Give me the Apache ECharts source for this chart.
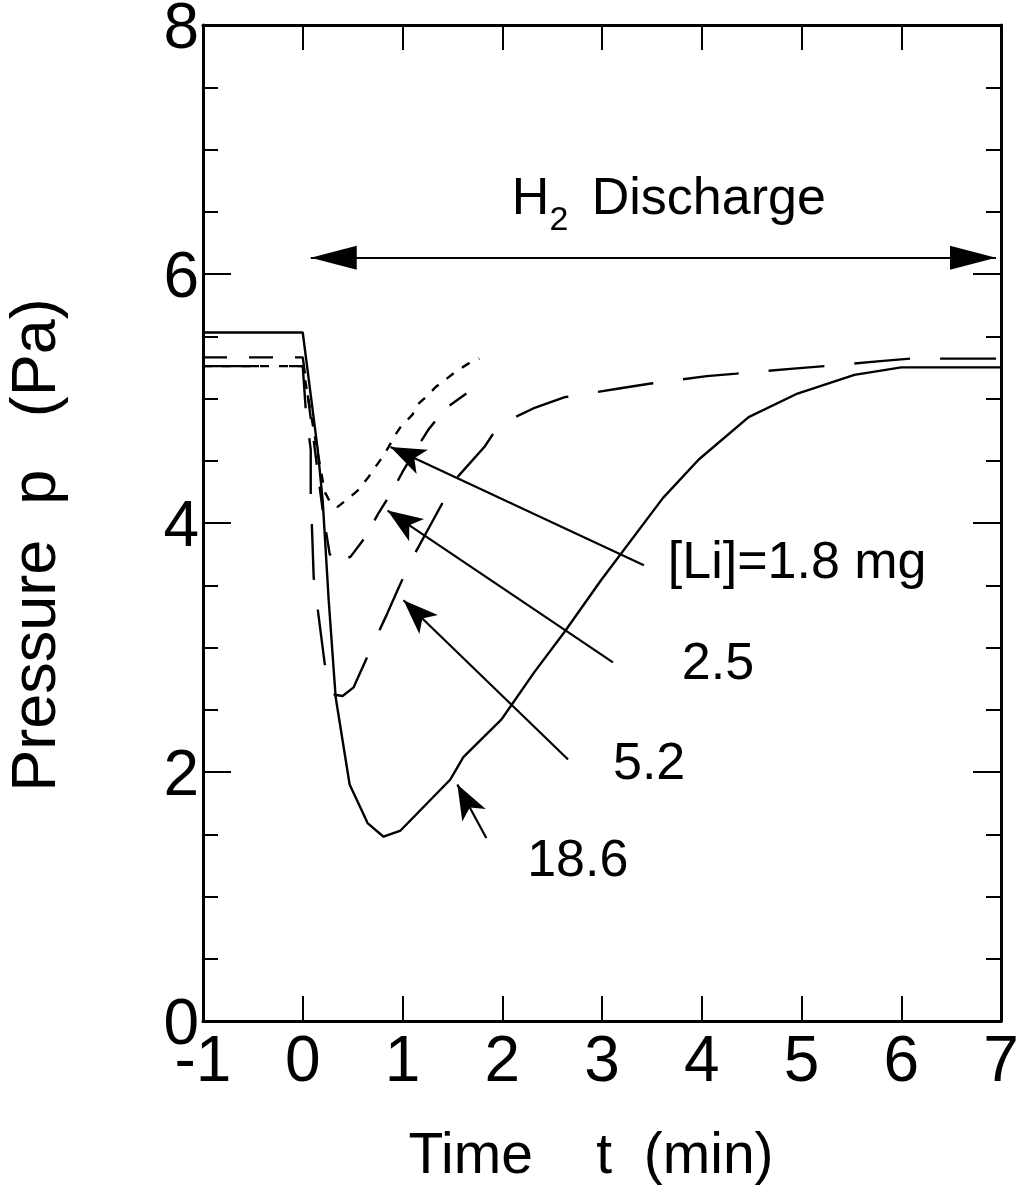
<!DOCTYPE html>
<html><head><meta charset="utf-8">
<script src="https://cdn.jsdelivr.net/npm/echarts@6/dist/echarts.min.js"></script>
<style>html,body{margin:0;padding:0;background:#fff}#c{width:1023px;height:1195px}</style>
</head><body><div id="c"></div>
<script>
// ---- data (time t in min, pressure p in Pa) ----
const xTickValues = [-1, 0, 1, 2, 3, 4, 5, 6, 7];
const yTickValues = [0, 2, 4, 6, 8];
const li18_6 = [[-1,5.53],[0,5.53],[0.15,4.59],[0.20,4.18],[0.26,3.38],[0.33,2.60],[0.47,1.90],[0.65,1.59],[0.81,1.48],[0.98,1.53],[1.48,1.94],[1.61,2.12],[1.99,2.42],[2.32,2.80],[2.62,3.12],[2.99,3.54],[3.61,4.20],[3.97,4.51],[4.47,4.85],[4.96,5.04],[5.53,5.19],[6.00,5.25],[7.00,5.25]];
const li5_2 = [[-1,5.26],[0,5.26],[0.03,4.91],[0.08,4.59],[0.08,4.24],[0.11,3.56],[0.22,2.87],[0.32,2.62],[0.40,2.61],[0.51,2.68],[0.70,3.02],[0.84,3.26],[0.95,3.46],[1.08,3.69],[1.25,3.94],[1.53,4.35],[1.82,4.61],[1.97,4.79],[2.31,4.92],[2.62,5.01],[3.17,5.08],[3.49,5.12],[4.05,5.18],[4.35,5.20],[4.92,5.24],[5.23,5.26],[5.79,5.30],[6.09,5.32],[7.00,5.32]];
const li2_5 = [[-1,5.33],[0,5.33],[0.12,4.60],[0.20,4.10],[0.27,3.75],[0.35,3.68],[0.48,3.73],[0.63,3.89],[0.76,4.08],[0.90,4.26],[1.00,4.41],[1.15,4.61],[1.26,4.75],[1.43,4.92],[1.64,5.04]];
const li1_8 = [[-1,5.26],[0,5.26],[0.12,4.70],[0.22,4.25],[0.28,4.16],[0.35,4.13],[0.46,4.20],[0.55,4.26],[0.66,4.37],[0.71,4.43],[0.80,4.53],[0.86,4.61],[0.93,4.71],[0.98,4.77],[1.10,4.87],[1.15,4.95],[1.26,5.03],[1.33,5.09],[1.46,5.17],[1.54,5.22],[1.66,5.28],[1.77,5.32]];
// annotation arrows: [tailT, tailP, headT, headP]
const arrowLi18 = [3.42, 3.66, 0.88, 4.61];
const arrowLi25 = [3.11, 2.88, 0.85, 4.10];
const arrowLi52 = [2.66, 2.10, 1.01, 3.38];
const arrowLi186 = [1.84, 1.47, 1.55, 1.90];
const dischargeSpan = [0.08, 6.95, 6.13];
// annotation labels: [t, p, text]
const labelTexts = [[3.66, 3.67, '[Li]=1.8 mg'], [3.80, 2.86, '2.5'], [3.11, 2.06, '5.2'], [2.25, 1.28, '18.6']];
const dischargeLabel = [3.67, 6.55];

const FONT = 'Liberation Sans';
const chart = echarts.init(document.getElementById('c'), null, {renderer: 'canvas'});

function arrowLine(a) {
  return [
    {coord: [a[0], a[1]], symbol: 'none'},
    {coord: [a[2], a[3]], symbol: 'arrow', symbolSize: [20, 35], symbolOffset: [0, 0]}
  ];
}

const axisLineStyle = {show: true, onZero: false, lineStyle: {color: '#000', width: 3}};
const xAxisBase = {
  type: 'value', min: -1, max: 7, interval: 1,
  axisLine: axisLineStyle,
  axisTick: {show: true, inside: true, length: 25, lineStyle: {color: '#000', width: 2}},
  splitLine: {show: false}
};
const yAxisBase = {
  type: 'value', min: 0, max: 8, interval: 2,
  axisLine: axisLineStyle,
  axisTick: {show: true, inside: true, length: 28, lineStyle: {color: '#000', width: 2}},
  minorTick: {show: true, splitNumber: 4, length: 15, lineStyle: {color: '#000', width: 2}},
  splitLine: {show: false}, minorSplitLine: {show: false}
};

const option = {
  animation: false,
  backgroundColor: '#fff',
  grid: {left: 203, right: 22, top: 25, bottom: 174, containLabel: false, outerBoundsMode: 'none'},
  xAxis: [
    Object.assign({}, xAxisBase, {
      position: 'bottom',
      axisLabel: {show: true, fontSize: 64, color: '#000', fontFamily: FONT, margin: 10,
        formatter: v => (xTickValues.indexOf(v) >= 0 ? String(v) : '')},
      name: 'Time    t  (min)', nameLocation: 'middle', nameGap: 108,
      nameTextStyle: {fontSize: 57, color: '#000', fontFamily: FONT, padding: [0, 22, 0, 0]}
    }),
    Object.assign({}, xAxisBase, {position: 'top', axisLabel: {show: false}})
  ],
  yAxis: [
    Object.assign({}, yAxisBase, {
      position: 'left',
      axisLabel: {show: true, margin: 4,
        formatter: v => (yTickValues.indexOf(v) >= 0 ? '{d|' + v + '}' : ''),
        rich: {d: {fontSize: 64, color: '#000', fontFamily: FONT, padding: [10, 0, 0, 0]}}},
      name: 'Pressure  p   (Pa)', nameLocation: 'middle', nameGap: 134,
      nameTextStyle: {fontSize: 63, color: '#000', fontFamily: FONT, padding: [0, 44, 0, 0]}
    }),
    Object.assign({}, yAxisBase, {position: 'right', axisLabel: {show: false}})
  ],
  series: [
    {type: 'line', name: '18.6', data: li18_6, symbol: 'none', silent: true,
      lineStyle: {color: '#000', width: 2.4, type: 'solid'},
      markLine: {
        silent: true, animation: false, label: {show: false},
        lineStyle: {color: '#000', width: 2.2, type: 'solid'},
        emphasis: {disabled: true},
        data: [
          arrowLine(arrowLi18), arrowLine(arrowLi25), arrowLine(arrowLi52), arrowLine(arrowLi186),
          [
            {coord: [dischargeSpan[0], dischargeSpan[2]], symbol: 'triangle', symbolSize: [24, 46], symbolOffset: [0, 23]},
            {coord: [dischargeSpan[1], dischargeSpan[2]], symbol: 'triangle', symbolSize: [24, 46], symbolOffset: [0, 23]}
          ]
        ]
      }
    },
    {type: 'line', name: '5.2', data: li5_2, symbol: 'none', silent: true,
      lineStyle: {color: '#000', width: 2.4, type: [56, 30]}},
    {type: 'line', name: '2.5', data: li2_5, symbol: 'none', silent: true,
      lineStyle: {color: '#000', width: 2.4, type: [24, 22]}},
    {type: 'line', name: '1.8', data: li1_8, symbol: 'none', silent: true,
      lineStyle: {color: '#000', width: 2.4, type: [9, 10]}},
    {type: 'scatter', name: 'labels', symbolSize: 0, silent: true, itemStyle: {opacity: 1},
      data: labelTexts.map(d => ({value: [d[0], d[1]], name: d[2]})),
      label: {show: true, position: 'right', distance: 0, formatter: p => p.name,
        fontSize: 52, color: '#000', fontFamily: FONT}
    },
    {type: 'scatter', name: 'discharge', symbolSize: 0, silent: true, itemStyle: {opacity: 1},
      data: [{value: dischargeLabel, name: 'H2 Discharge'}],
      label: {show: true, position: 'inside', formatter: '{a|H}{s|2}{a| Discharge}',
        rich: {
          a: {fontSize: 52, lineHeight: 52, verticalAlign: 'top', color: '#000', fontFamily: FONT},
          s: {fontSize: 34, lineHeight: 64, verticalAlign: 'bottom', color: '#000', fontFamily: FONT, padding: [0, 9, 0, 0]}
        }
      }
    }
  ]
};
chart.setOption(option);
</script>
</body></html>
